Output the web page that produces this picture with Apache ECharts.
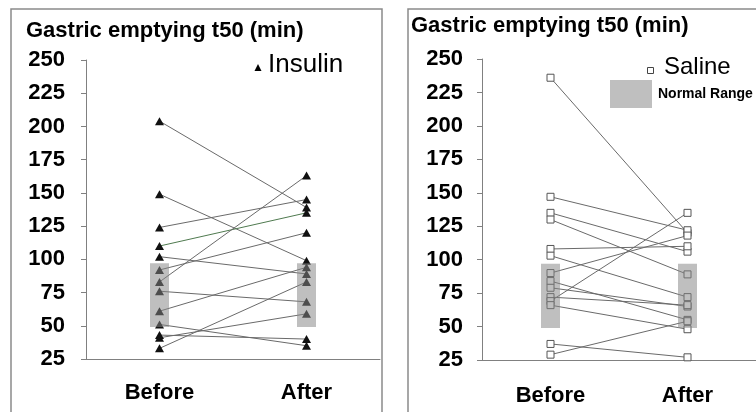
<!DOCTYPE html>
<html>
<head>
<meta charset="utf-8">
<script src="https://cdn.jsdelivr.net/npm/echarts@6/dist/echarts.min.js"></script>
<style>
html,body{margin:0;padding:0;background:#fff;}
#chart{width:756px;height:412px;}
</style>
</head>
<body>
<div id="chart"></div>
<script>
// ---- data ----
var categories = ['Before', 'After'];
var yTicks = [25, 50, 75, 100, 125, 150, 175, 200, 225, 250];
var insulinBefore = [204, 149, 124, 110, 102, 92, 83, 76, 61, 51, 43, 41, 33];
var insulinAfter  = [139, 99, 145, 135, 89, 120, 163, 68, 94, 35, 40, 59, 83];
var salineBefore  = [236, 147, 135, 130, 108, 103, 90, 84, 79, 72, 69, 66, 37, 29];
var salineAfter   = [120, 122, 106, 89, 110, 72, 118, 55, 65, 66, 135, 48, 27, 54];
var normalRange = [49, 97];
var titleText = 'Gastric emptying t50 (min)';

var FONT = '"Liberation Sans", Arial, sans-serif';
var chart = echarts.init(document.getElementById('chart'), null, {renderer: 'canvas'});

function yAxisCfg(gi, margin) {
  return {
    type: 'value', gridIndex: gi, min: yTicks[0], max: yTicks[yTicks.length - 1], interval: 25,
    axisLine: {show: true, lineStyle: {color: '#808080', width: 1}},
    axisTick: {show: true, inside: false, length: 5, lineStyle: {color: '#808080'}},
    splitLine: {show: false},
    axisLabel: {color: '#000', fontWeight: 'bold', fontSize: 22, fontFamily: FONT, margin: margin}
  };
}
function xAxisCfg(gi, margin) {
  return {
    type: 'category', gridIndex: gi, data: categories, boundaryGap: true,
    axisLine: {show: true, lineStyle: {color: '#808080', width: 1}},
    axisTick: {show: false},
    axisLabel: {color: '#000', fontWeight: 'bold', fontSize: 22, fontFamily: FONT, margin: margin}
  };
}

var series = [];
function addPairs(before, after, gi, symbol, size, markerStyle, lineColors) {
  before.forEach(function (b, i) {
    series.push({
      type: 'line', xAxisIndex: gi, yAxisIndex: gi,
      data: [b, after[i]],
      symbol: symbol, symbolSize: size, showSymbol: true,
      itemStyle: markerStyle,
      lineStyle: {color: (lineColors && lineColors[i]) || '#6a6a6a', width: 1},
      emphasis: {disabled: true}, silent: true, animation: false, z: 2
    });
  });
}
var insulinLineColors = [];
insulinLineColors[3] = '#4f7a4f';
addPairs(insulinBefore, insulinAfter, 0, 'triangle', [9, 8], {color: '#111', borderWidth: 0}, insulinLineColors);
addPairs(salineBefore, salineAfter, 1, 'rect', [7, 7], {color: '#fff', borderColor: '#555', borderWidth: 1}, null);

function rangeSeries(gi, barW) {
  return {
    type: 'custom', xAxisIndex: gi, yAxisIndex: gi, silent: true, animation: false, z: 5,
    data: categories.map(function (c, i) { return [i, normalRange[0], normalRange[1]]; }),
    renderItem: function (params, api) {
      var lo = api.coord([api.value(0), api.value(1)]);
      var hi = api.coord([api.value(0), api.value(2)]);
      return {
        type: 'rect',
        shape: {x: lo[0] - barW / 2, y: hi[1], width: barW, height: lo[1] - hi[1]},
        style: {fill: 'rgba(133,133,133,0.525)'}
      };
    }
  };
}
series.push(rangeSeries(0, 19));
series.push(rangeSeries(1, 19));

var option = {
  backgroundColor: '#fff',
  animation: false,
  grid: [
    {left: 86, top: 60, width: 294, height: 299},
    {left: 482, top: 59, width: 284, height: 301}
  ],
  xAxis: [xAxisCfg(0, 23), xAxisCfg(1, 25)],
  yAxis: [yAxisCfg(0, 21), yAxisCfg(1, 19)],
  series: series,
  graphic: [
    {type: 'rect', shape: {x: 11, y: 9, width: 371, height: 404}, style: {fill: 'none', stroke: '#8a8a8a', lineWidth: 1.5}, z: 10},
    {type: 'rect', shape: {x: 408, y: 9, width: 360, height: 404}, style: {fill: 'none', stroke: '#8a8a8a', lineWidth: 1.5}, z: 10},
    {type: 'text', x: 26, y: 31, style: {text: titleText, font: 'bold 22px ' + FONT, fill: '#000', textVerticalAlign: 'middle'}, z: 10},
    {type: 'text', x: 411, y: 26, style: {text: titleText, font: 'bold 22px ' + FONT, fill: '#000', textVerticalAlign: 'middle'}, z: 10},
    // Insulin legend
    {type: 'polygon', shape: {points: [[258, 64], [254.5, 71], [261.5, 71]]}, style: {fill: '#000'}, z: 10},
    {type: 'text', x: 268, y: 65, style: {text: 'Insulin', font: '26px ' + FONT, fill: '#000', textVerticalAlign: 'middle'}, z: 10},
    // Saline legend
    {type: 'rect', shape: {x: 647.5, y: 67.5, width: 6, height: 6}, style: {fill: '#fff', stroke: '#444', lineWidth: 1}, z: 10},
    {type: 'text', x: 664, y: 67, style: {text: 'Saline', font: '24px ' + FONT, fill: '#000', textVerticalAlign: 'middle'}, z: 10},
    {type: 'rect', shape: {x: 610, y: 80, width: 42, height: 28}, style: {fill: '#bfbfbf'}, z: 10},
    {type: 'text', x: 658, y: 94, style: {text: 'Normal Range', font: 'bold 14px ' + FONT, fill: '#000', textVerticalAlign: 'middle'}, z: 10}
  ]
};
chart.setOption(option);
</script>
</body>
</html>
